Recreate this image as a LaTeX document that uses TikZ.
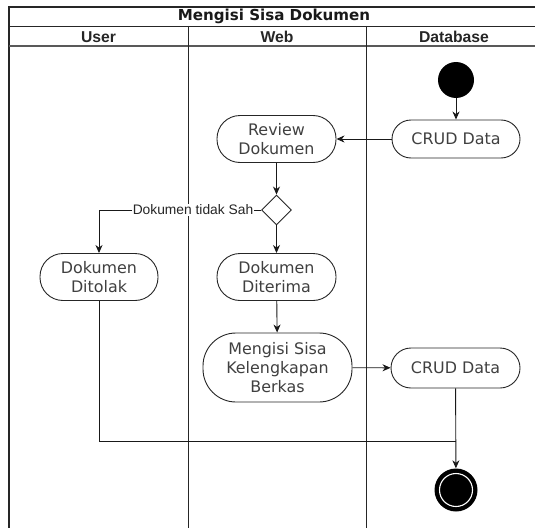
\documentclass[tikz,border=0pt]{standalone}
\usepackage{fontspec}
\setmainfont{DejaVu Sans}
\newfontfamily\arialfont{Liberation Sans}
\usetikzlibrary{arrows.meta,shapes.geometric}

\tikzset{
  lane/.style={draw=black!85, line width=0.9pt},
  act/.style={draw=black!85, line width=0.9pt, align=center, text=black!75,
    font=\fontsize{15.9}{18.6}\selectfont, inner sep=0pt},
  flow/.style={draw=black!90, line width=0.9pt},
  arr/.style={flow, -{Stealth[length=8pt,width=7pt,inset=2.5pt]}},
  hdr/.style={font=\arialfont\bfseries\fontsize{15.7}{18}\selectfont, text=black!85},
}

\begin{document}
\begin{tikzpicture}[x=1pt,y=-1pt]
\useasboundingbox (0,0) rectangle (535,527);
\clip (0,0) rectangle (535,527);
\fill[white] (0,0) rectangle (535,527);

% swimlane frame
\draw[lane, line width=1.1pt] (9,560) -- (9,7) -- (545,7);
\draw[lane] (9,26) -- (545,26);
\draw[lane, draw=black!65, line width=1.3pt] (9,46) -- (545,46);
\draw[lane] (188,26) -- (188,560);
\draw[lane] (366,26) -- (366,560);

\node[font=\bfseries\fontsize{15.1}{17}\selectfont, text=black!90] (title) at (274,16.5) {Mengisi Sisa Dokumen};
\node[hdr] (huser) at (98.5,37) {User};
\node[hdr] (hweb) at (277,37) {Web};
\node[hdr] (hdb) at (454,37) {Database};

% start and end
\node[circle, fill=black, minimum size=36pt, inner sep=0pt] (start) at (456,80) {};
\node[circle, fill=black, minimum size=43pt, inner sep=0pt] (end) at (456,490) {};
\draw[white, line width=1.1pt] (end.center) circle[radius=16.5pt];

% activities
\node[act, rectangle, rounded corners=19pt, minimum width=128pt, minimum height=38pt] (crud1) at (456,139) {CRUD Data};
\node[act, rectangle, rounded corners=23pt, minimum width=119pt, minimum height=47pt] (review) at (276.5,139) {Review\\Dokumen};
\node[act, diamond, minimum width=30pt, minimum height=30pt, aspect=1] (dec) at (276.5,210) {};
\node[act, rectangle, rounded corners=23pt, minimum width=118pt, minimum height=47pt] (tolak) at (99,277) {Dokumen\\Ditolak};
\node[act, rectangle, rounded corners=23pt, minimum width=119pt, minimum height=47pt] (terima) at (276.5,277) {Dokumen\\Diterima};
\node[act, rectangle, rounded corners=33pt, minimum width=149pt, minimum height=69pt] (isi) at (277.5,367.5) {Mengisi Sisa\\Kelengkapan\\Berkas};
\node[act, rectangle, rounded corners=20pt, minimum width=129pt, minimum height=40pt] (crud2) at (455.5,368) {CRUD Data};

\node[font=\arialfont\fontsize{13.8}{16}\selectfont, text=black!85, fill=white, inner sep=0.5pt] (lbl) at (193,210) {Dokumen tidak Sah};
\coordinate (join) at (456,441);

% connectors
\draw[arr] (start) -- (crud1);
\draw[arr] (crud1) -- (review);
\draw[arr] (review) -- (dec);
\draw[arr] (dec) -- (terima);
\draw[flow] (dec.west) -- (lbl.east);
\draw[arr] (lbl.west) -| (tolak.north);
\draw[arr] (terima) -- (isi);
\draw[arr] (isi) -- (crud2);
\draw[arr] (crud2) -- (end);
\draw[flow] (tolak.south) |- (join);
\end{tikzpicture}
\end{document}
